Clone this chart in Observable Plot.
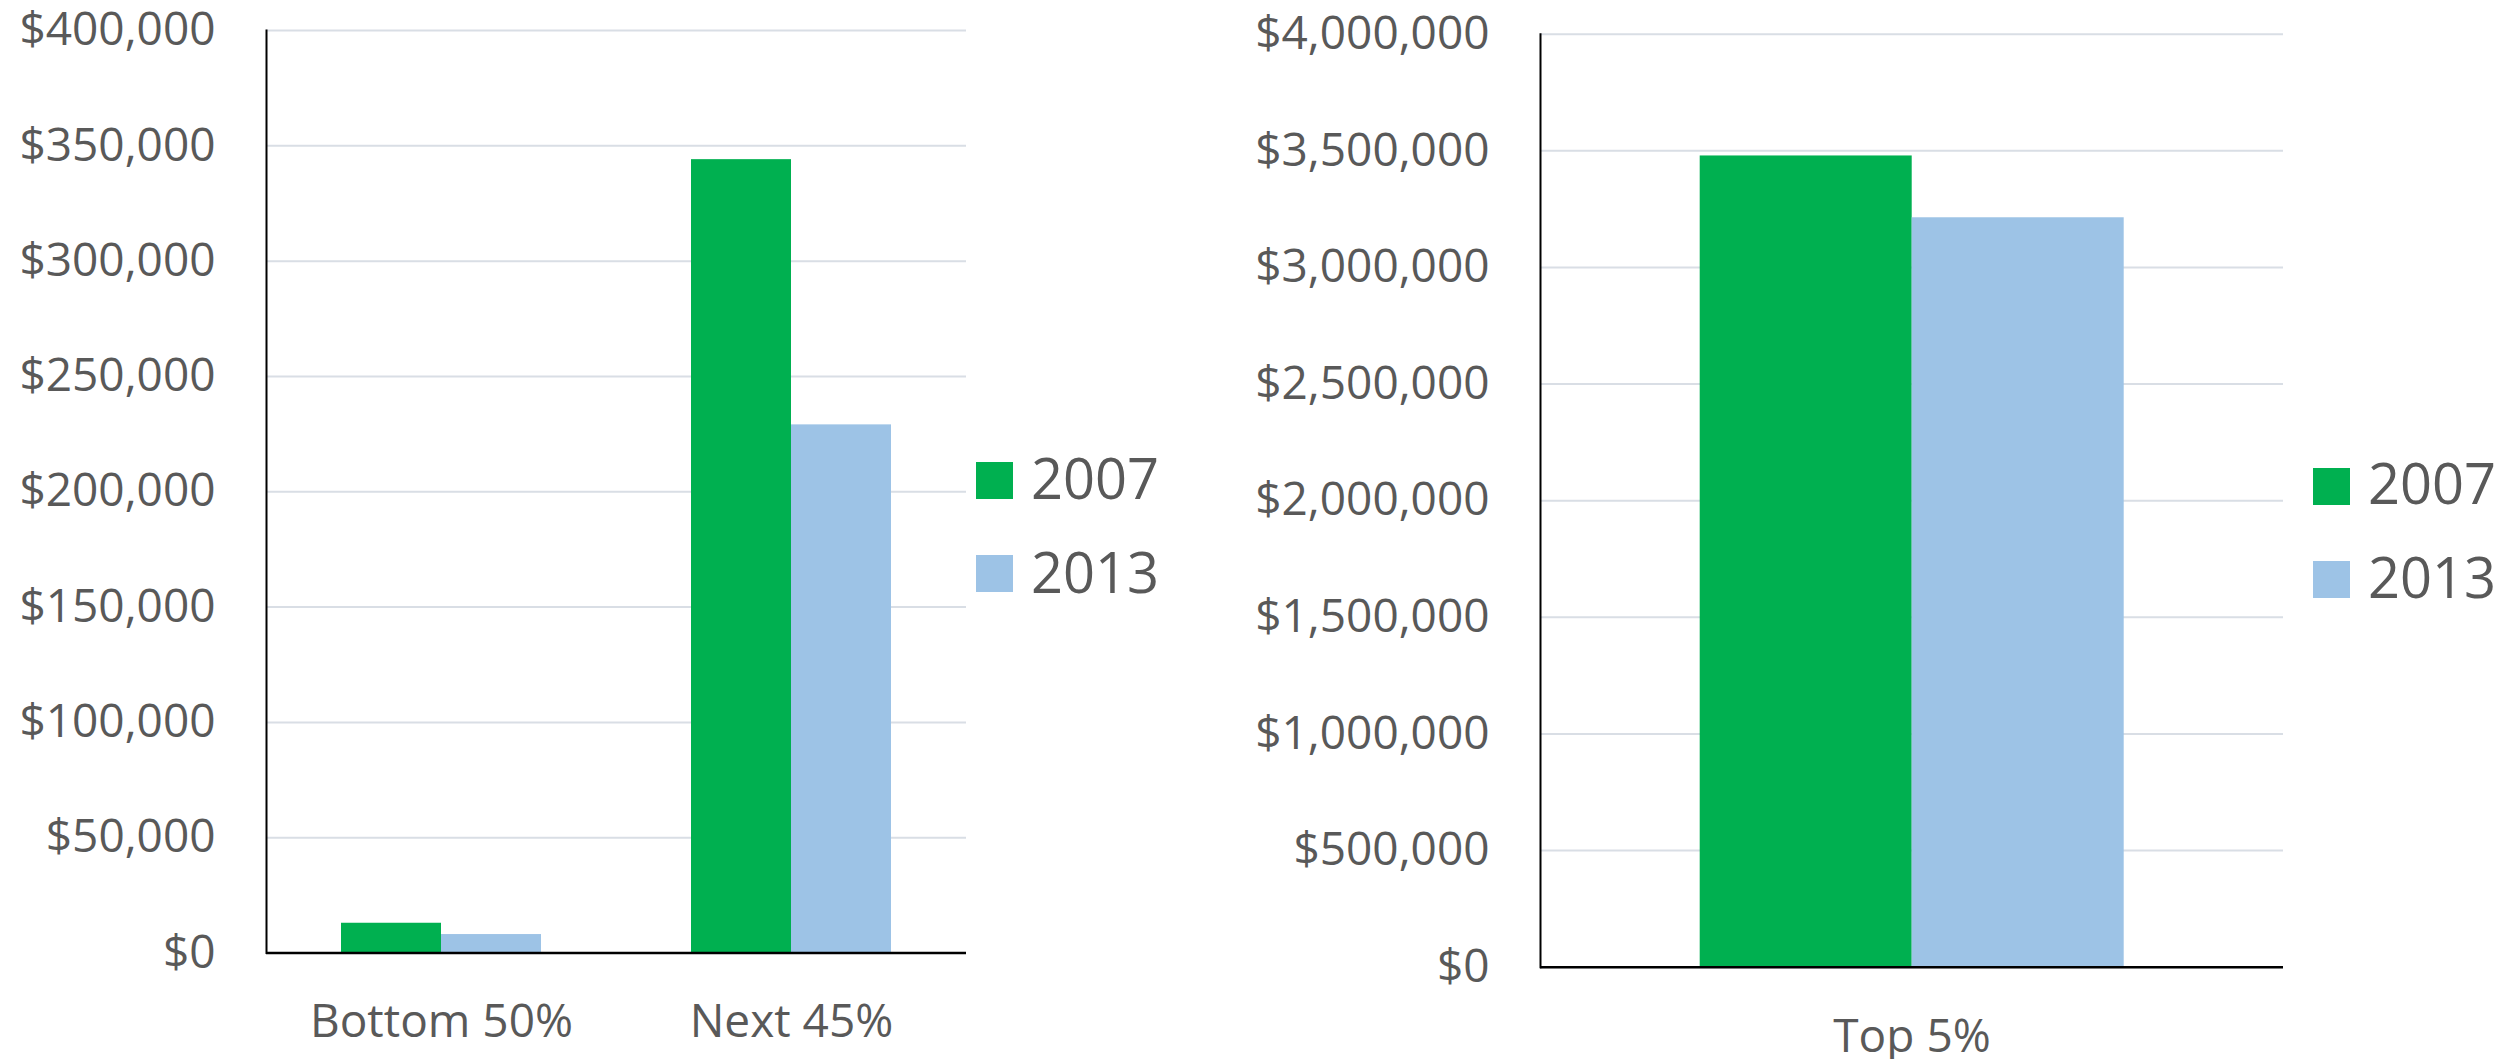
<!DOCTYPE html>
<html>
<head>
<meta charset="utf-8">
<script src="https://cdn.jsdelivr.net/npm/d3@7"></script>
<script src="https://cdn.jsdelivr.net/npm/@observablehq/plot@0.6"></script>
<style>
  body { margin: 0; background: #fff; font-family: "Open Sans", sans-serif; }
  #root { position: relative; width: 2501px; height: 1059px; overflow: hidden; background: #fff; }
  .chart { position: absolute; top: 0; }
  .sw { position: absolute; width: 37px; height: 37px; }
  .lt { position: absolute; font-family: "Open Sans", sans-serif; font-size: 56px; line-height: 56px; color: #595959; white-space: nowrap; }
</style>
</head>
<body>
<div id="root"></div>
<script>
// ---- data ----
const years = ["2007", "2013"];
const yearColors = ["#00B050", "#9DC3E6"];

const leftCategories = ["Bottom 50%", "Next 45%"];
const left2007 = [12900, 344000];
const left2013 = [8000, 229000];
const leftTicks = [0, 50000, 100000, 150000, 200000, 250000, 300000, 350000, 400000];

const rightCategories = ["Top 5%"];
const right2007 = [3478000];
const right2013 = [3213000];
const rightTicks = [0, 500000, 1000000, 1500000, 2000000, 2500000, 3000000, 3500000, 4000000];

function rowsOf(cats, v07, v13) {
  return cats.flatMap((c, i) => [
    {cat: c, year: years[0], value: v07[i]},
    {cat: c, year: years[1], value: v13[i]}
  ]);
}

function makeChart({cats, v07, v13, ticks, width, height, mL, mR, mT, mB, fxPad}) {
  const rows = rowsOf(cats, v07, v13);
  return Plot.plot({
    width, height,
    marginLeft: mL, marginRight: mR, marginTop: mT, marginBottom: mB,
    style: {fontFamily: "Open Sans, sans-serif", fontSize: "46px", color: "#595959", background: "transparent", overflow: "visible"},
    fx: {domain: cats, paddingInner: 0, paddingOuter: 0, label: null},
    x: {domain: years, paddingInner: 0, paddingOuter: 0.75, axis: null},
    y: {domain: [0, ticks[ticks.length - 1]], axis: null},
    color: {domain: years, range: yearColors},
    marks: [
      Plot.gridY(ticks, {stroke: "#D9DEE5", strokeOpacity: 1, strokeWidth: 2}),
      Plot.barY(rows, {fx: "cat", x: "year", y: "value", fill: "year"}),
      Plot.ruleY([0], {stroke: "#000", strokeWidth: 2.5}),
      Plot.frame({anchor: "left", stroke: "#000", strokeWidth: 2, facetAnchor: "left"}),
      Plot.axisY(ticks, {tickSize: 0, tickPadding: 51, tickFormat: d3.format("$,"), fontSize: 46, label: null, fill: "#595959"}),
      Plot.axisFx({anchor: "bottom", tickSize: 0, tickPadding: fxPad, fontSize: 46, label: null, fill: "#595959"})
    ]
  });
}

const root = document.getElementById("root");

const left = makeChart({cats: leftCategories, v07: left2007, v13: left2013, ticks: leftTicks,
  width: 1000, height: 1059, mL: 265, mR: 33.3, mT: 30, mB: 106.5, fxPad: 51.5});
left.classList.add("chart");
left.style.left = "0px";
root.appendChild(left);

const right = makeChart({cats: rightCategories, v07: right2007, v13: right2013, ticks: rightTicks,
  width: 1200, height: 1059, mL: 439.3, mR: 17.3, mT: 33.7, mB: 92.3, fxPad: 52.3});
right.classList.add("chart");
right.style.left = "1100px";
root.appendChild(right);

// ---- legends ----
function legend(x, yTops, textX, textTops) {
  years.forEach((y, i) => {
    const sw = document.createElement("div");
    sw.className = "sw";
    sw.style.left = x + "px";
    sw.style.top = yTops[i] + "px";
    sw.style.background = yearColors[i];
    root.appendChild(sw);
    const t = document.createElement("div");
    t.className = "lt";
    t.style.left = textX + "px";
    t.style.top = textTops[i] + "px";
    t.textContent = y;
    root.appendChild(t);
  });
}
legend(976, [462, 555], 1031, [449, 542.5]);
legend(2313, [468, 561], 2368, [454, 547.5]);
</script>
</body>
</html>
